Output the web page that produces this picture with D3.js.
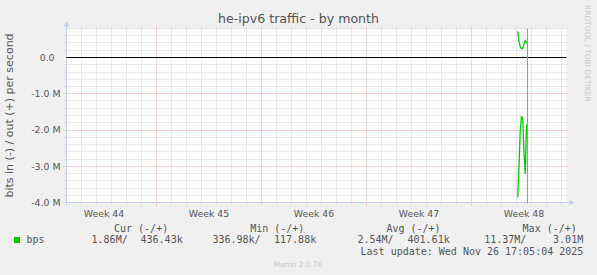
<!DOCTYPE html>
<html>
<head>
<meta charset="utf-8">
<script src="https://cdn.jsdelivr.net/npm/d3@7"></script>
<style>
  body { margin: 0; background: #f0f0f0; }
  svg text { font-family: "DejaVu Sans", sans-serif; fill: #555; }
  svg text.mono { font-family: "DejaVu Sans Mono", monospace; font-size: 10px; white-space: pre; }
</style>
</head>
<body>
<svg id="graph" width="597" height="275"></svg>
<script>
// datos leídos a ojo del gráfico (bits por segundo, en M)
const times = ["2025-11-26T02:00Z", "2025-11-26T04:00Z", "2025-11-26T06:00Z",
    "2025-11-26T08:00Z", "2025-11-26T10:00Z", "2025-11-26T12:00Z",
    "2025-11-26T14:00Z", "2025-11-26T16:00Z", "2025-11-26T17:05Z"];
const outBps = [0.72, 0.45, 0.30, 0.24, 0.25, 0.38, 0.47, 0.41, 0.436];
const inBps = [3.86, 3.0, 2.0, 1.62, 1.7, 2.6, 3.21, 1.86, 1.86];
const lastUpdate = "2025-11-26T17:05:04Z";

// ejes
const timeRange = ["2025-10-27T00:00Z", "2025-11-29T08:00Z"];
const yRange = [-4.0, 0.8];
const yTicks = [-4, -3, -2, -1, 0];
const yTickLabels = ["-4.0 M", "-3.0 M", "-2.0 M", "-1.0 M", "0.0"];
const weekLabels = ["Week 44", "Week 45", "Week 46", "Week 47", "Week 48"];

// leyenda
const legendHeads = ["Cur (-/+)", "Min (-/+)", "Avg (-/+)", "Max (-/+)"];
const inStats = ["1.86M", "336.98k", "2.54M", "11.37M"];
const outStats = ["436.43k", "117.88k", "401.61k", "3.01M"];

const green = "#00cc00";
const svg = d3.select("#graph");

const x = d3.scaleUtc(timeRange.map(d => new Date(d)), [66.5, 566.5]);
const y = d3.scaleLinear(yRange, [202.5, 28.5]);
const [x0, x1] = x.range();
const [yb, yt] = y.range();

// lienzo blanco
svg.append("rect")
    .attr("x", x0).attr("y", yt)
    .attr("width", x1 - x0).attr("height", yb - yt)
    .attr("fill", "white");

// rejilla menor: días y 0.2 M
const [t0, t1] = x.domain();
const days = d3.utcDay.range(t0, t1);
const weeks = d3.utcSunday.range(t0, t1);
const weekStarts = weeks.map(d => +d);

svg.append("g").selectAll("line")
    .data(days.filter(d => !weekStarts.includes(+d)))
    .join("line")
    .attr("x1", d => Math.round(x(d) - 0.5) + 0.5)
    .attr("x2", d => Math.round(x(d) - 0.5) + 0.5)
    .attr("y1", yt - 2).attr("y2", yb + 3)
    .attr("stroke", "#d2d2d2").attr("stroke-dasharray", "1,1");

const minorY = d3.range(yRange[0], yRange[1] + 1e-9, 0.2)
    .filter(v => Math.abs(v - Math.round(v)) > 1e-6);
svg.append("g").selectAll("line")
    .data(minorY)
    .join("line")
    .attr("x1", x0 - 2).attr("x2", x1 + 2)
    .attr("y1", d => Math.round(y(d) - 0.5) + 0.5)
    .attr("y2", d => Math.round(y(d) - 0.5) + 0.5)
    .attr("stroke", "#d2d2d2").attr("stroke-dasharray", "1,1");

// rejilla mayor: semanas y 1 M
svg.append("g").selectAll("line")
    .data(weeks)
    .join("line")
    .attr("x1", d => Math.round(x(d) - 0.5) + 0.5)
    .attr("x2", d => Math.round(x(d) - 0.5) + 0.5)
    .attr("y1", yt - 2).attr("y2", yb + 3)
    .attr("stroke", "#e8a4a4").attr("stroke-dasharray", "1,1");

svg.append("g").selectAll("line")
    .data(yTicks.filter(v => v !== 0))
    .join("line")
    .attr("x1", x0 - 3).attr("x2", x1 + 3)
    .attr("y1", d => Math.round(y(d) - 0.5) + 0.5)
    .attr("y2", d => Math.round(y(d) - 0.5) + 0.5)
    .attr("stroke", "#e8a4a4").attr("stroke-dasharray", "1,1");

// etiquetas del eje y
svg.append("g").selectAll("text")
    .data(yTicks)
    .join("text")
    .attr("x", 60.5)
    .attr("y", d => y(d) + 3.4)
    .attr("text-anchor", "end")
    .style("font-size", "9.4px")
    .style("white-space", "pre")
    .text((d, i) => yTickLabels[i].endsWith("M") ? yTickLabels[i] : yTickLabels[i] + "  ");

// etiquetas de semana, centradas a mitad de semana
const weekMids = d3.utcSunday.range(d3.utcSunday.floor(t0), t1)
    .map(d => d3.utcHour.offset(d, 84))
    .filter(d => d > t0 && d < t1);
svg.append("g").selectAll("text")
    .data(weekMids)
    .join("text")
    .attr("x", d => x(d))
    .attr("y", 216.5)
    .attr("text-anchor", "middle")
    .style("font-size", "9.3px")
    .text((d, i) => weekLabels[i]);

// ejes con flechas
const axisColor = "#c4ccf2";
svg.append("line")
    .attr("x1", x0).attr("x2", x0).attr("y1", yb + 3).attr("y2", yt - 4)
    .attr("stroke", axisColor);
svg.append("line")
    .attr("x1", x0 - 3).attr("x2", x1 + 3).attr("y1", yb).attr("y2", yb)
    .attr("stroke", axisColor);
svg.append("path")
    .attr("d", `M${x0 - 3},${yt - 2}L${x0},${yt - 7}L${x0 + 3},${yt - 2}Z`)
    .attr("fill", axisColor);
svg.append("path")
    .attr("d", `M${x1 + 3},${yb - 3}L${x1 + 8},${yb}L${x1 + 3},${yb + 3}Z`)
    .attr("fill", axisColor);

// línea del cero
svg.append("line")
    .attr("x1", x0).attr("x2", x1)
    .attr("y1", Math.round(y(0) - 0.5) + 0.5).attr("y2", Math.round(y(0) - 0.5) + 0.5)
    .attr("stroke", "black");

// series: salida (+) y entrada (-)
const pts = times.map((t, i) => ({ t: new Date(t), out: outBps[i], inn: -inBps[i] }));
const line = key => d3.line().x(d => x(d.t)).y(d => y(d[key]));
svg.append("path").datum(pts)
    .attr("d", line("out"))
    .attr("fill", "none").attr("stroke", green).attr("stroke-width", 1.3);
svg.append("path").datum(pts)
    .attr("d", line("inn"))
    .attr("fill", "none").attr("stroke", green).attr("stroke-width", 1.3);

// marca de última actualización
const xNow = Math.round(x(new Date(lastUpdate)) - 0.5) + 0.5;
svg.append("line")
    .attr("x1", xNow).attr("x2", xNow).attr("y1", yt).attr("y2", yb + 1)
    .attr("stroke", "#999");

// títulos
svg.append("text")
    .attr("x", 298.5).attr("y", 23)
    .attr("text-anchor", "middle")
    .style("font-size", "12.6px")
    .text("he-ipv6 traffic - by month");

svg.append("text")
    .attr("transform", "translate(13," + (yt + yb) / 2 + ") rotate(-90)")
    .attr("text-anchor", "middle")
    .style("font-size", "11px")
    .text("bits in (-) / out (+) per second");

svg.append("text")
    .attr("transform", "translate(585,5) rotate(90)")
    .style("font-size", "7.5px")
    .style("fill", "#c8c8c8")
    .text("RRDTOOL / TOBI OETIKER");

// leyenda
const legend = svg.append("g");
legend.selectAll("text.head")
    .data(legendHeads)
    .join("text")
    .attr("class", "mono head")
    .attr("x", (d, i) => 114 + i * 136.2)
    .attr("y", 231.5)
    .text(d => d);

legend.append("rect")
    .attr("x", 14).attr("y", 237).attr("width", 6).attr("height", 6)
    .attr("fill", green);
legend.append("text")
    .attr("class", "mono")
    .attr("x", 26.5).attr("y", 243.3)
    .text("bps");

legend.selectAll("text.in")
    .data(inStats)
    .join("text")
    .attr("class", "mono in")
    .attr("x", (d, i) => 127.7 + i * 132.9)
    .attr("y", 243.3)
    .attr("text-anchor", "end")
    .text(d => d + "/");

legend.selectAll("text.out")
    .data(outStats)
    .join("text")
    .attr("class", "mono out")
    .attr("x", (d, i) => 182.7 + i * 133.5)
    .attr("y", 243.3)
    .attr("text-anchor", "end")
    .text(d => d);

legend.append("text")
    .attr("class", "mono")
    .attr("x", 583.3).attr("y", 254.7)
    .attr("text-anchor", "end")
    .text("Last update: Wed Nov 26 17:05:04 2025");

svg.append("text")
    .attr("x", 298).attr("y", 267)
    .attr("text-anchor", "middle")
    .style("font-size", "7.5px")
    .style("fill", "#c8c8c8")
    .text("Munin 2.0.76");
</script>
</body>
</html>
